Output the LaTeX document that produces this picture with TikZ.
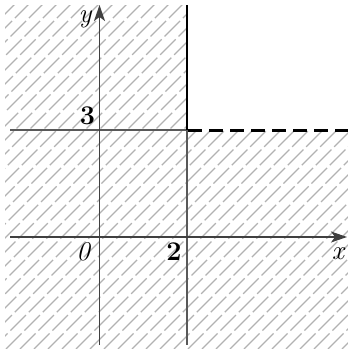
\documentclass[tikz,border=0pt]{standalone}
\usepackage{fontspec}
\usetikzlibrary{arrows.meta}
\begin{document}
\begin{tikzpicture}[x=1pt,y=-1pt,
  hatch/.style={gray!60,line width=1.4pt,dash pattern=on 22pt off 4pt},
  axis/.style={black!75,line width=1.3pt,-{Stealth[length=16pt,width=11pt,inset=4pt]}},
  thin/.style={black!65,line width=1.1pt},
  bound/.style={black,line width=2.6pt},
  lbl/.style={font=\fontsize{27}{29}\selectfont,inner sep=0pt}]
\useasboundingbox (0,0) rectangle (348,349);
\begin{scope}
  \clip (5,5) -- (187,5) -- (187,130) -- (348,130) -- (348,349) -- (5,349) -- cycle;
  \foreach \k in {-400,-386,...,400}
    \draw[hatch] (\k,349) -- ++(360,-360);
\end{scope}
\coordinate (xs) at (10,237);
\coordinate (xe) at (347,237);
\coordinate (ys) at (99.5,345);
\coordinate (ye) at (99.5,5);
\coordinate (c3l) at (10,130);
\coordinate (c23) at (187,130);
\coordinate (ctop) at (187,5);
\coordinate (cbot) at (187,345);
\coordinate (cr) at (348,130);
\draw[thin] (c3l) -- (c23);
\draw[thin] (c23) -- (cbot);
\draw[axis] (xs) -- (xe);
\draw[axis] (ys) -- (ye);
\draw[bound] (ctop) -- (c23);
\draw[black,line width=3pt,dash pattern=on 14pt off 7pt] (c23) ++(1.3,0) -- (cr);
\node[lbl] (ly) at (85,19) {\itshape y};
\node[lbl] (l3) at (87.5,116) {\bfseries 3};
\node[lbl] (l0) at (83,252) {\itshape 0};
\node[lbl] (l2) at (174,252) {\bfseries 2};
\node[lbl] (lx) at (338,254) {\itshape x};
\end{tikzpicture}
\end{document}
